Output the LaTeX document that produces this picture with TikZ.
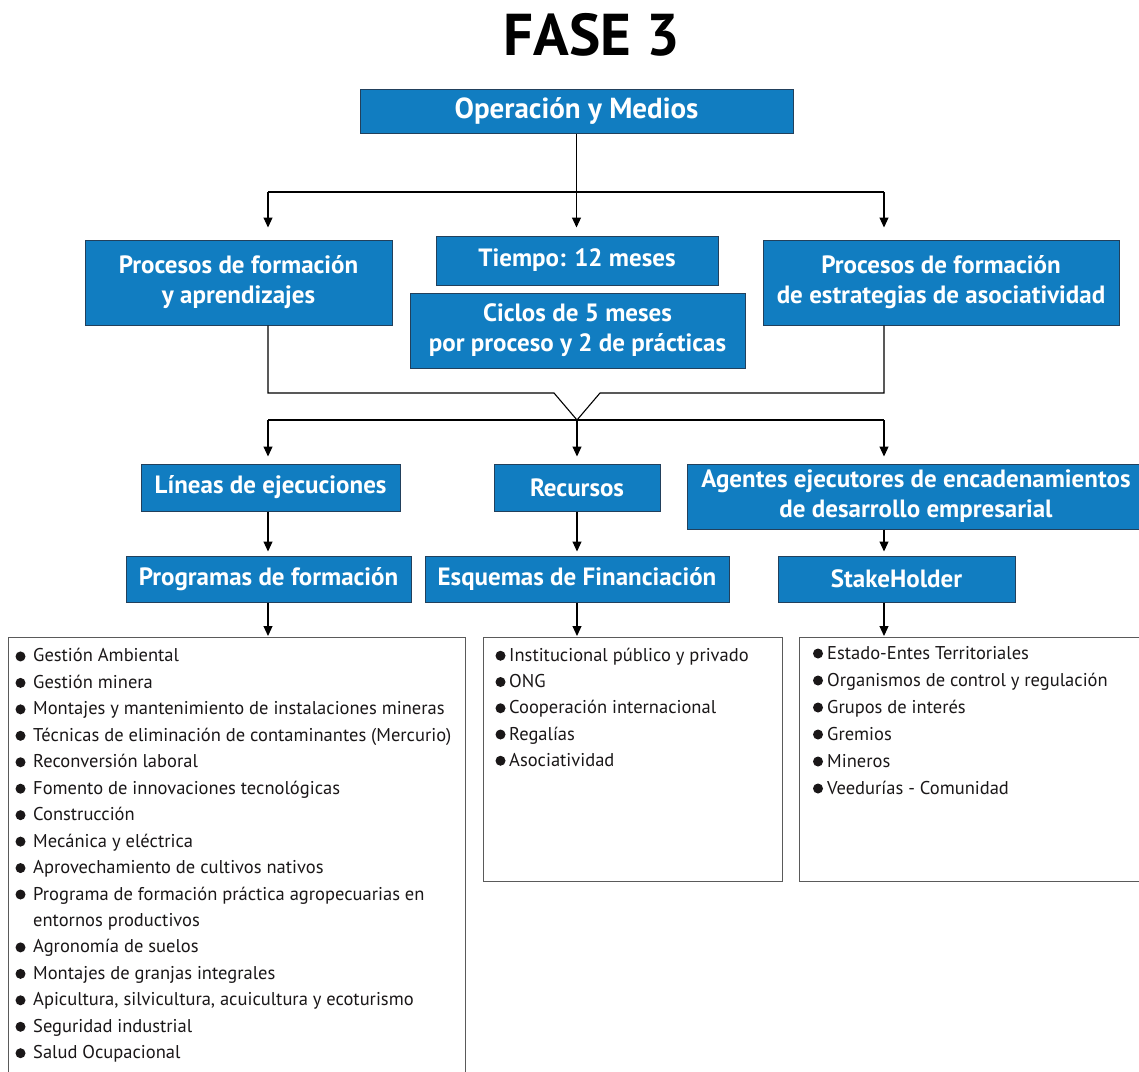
\documentclass[tikz,border=0pt]{standalone}
\usepackage{fontspec}
\setmainfont{PT Sans}
\usetikzlibrary{arrows.meta}
\definecolor{faseBlue}{HTML}{117DC1}
\definecolor{faseEdge}{HTML}{22405C}
\definecolor{faseGray}{HTML}{5A5A5A}
\definecolor{faseInk}{HTML}{1A1718}
\tikzset{
  fase title/.style={font=\bfseries\fontsize{59}{59}\selectfont, text=black, inner sep=0pt},
  fase box/.style={fill=faseBlue, draw=faseEdge, line width=1pt, text=white, align=center, inner sep=0pt, font=\bfseries\fontsize{25}{30}\selectfont},
  fase list/.style={draw=faseGray, line width=1.4pt, fill=white, inner sep=0pt, anchor=north west},
  fase item/.style={anchor=base west, inner sep=0pt, text=faseInk, font=\fontsize{18.5}{20}\selectfont},
  fase dot/.style={fill=faseInk},
  fase line/.style={draw=black, line width=1.1pt},
  fase arrow/.style={fase line, -{Triangle[length=10pt,width=9pt]}},
}

\begin{document}
\begin{tikzpicture}[x=1pt, y=-1pt]
  \path[use as bounding box] (0,0) rectangle (1139,1071);
  \clip (0,0) rectangle (1139,1071);
  \node[fase title] (title) at (592,35) {FASE 3};
  % Top box and first fork
  \node[fase box, minimum width=433pt, minimum height=44pt, font=\bfseries\fontsize{29}{30}\selectfont] (oym) at (576.5,111) {Operación y Medios};
  \node[fase box, minimum width=307pt, minimum height=85pt] (pfa) at (238.5,282.5) {Procesos de formación\\y aprendizajes};
  \node[fase box, minimum width=282pt, minimum height=49pt] (tiempo) at (577,260.5) {Tiempo: 12 meses};
  \node[fase box, minimum width=335pt, minimum height=75pt] (ciclos) at (577.5,330.5) {Ciclos de 5 meses\\por proceso y 2 de prácticas};
  \node[fase box, minimum width=356pt, minimum height=85pt] (pfe) at (941,282.5) {Procesos de formación\\de estrategias de asociatividad};
  % Third and fourth rows
  \node[fase box, minimum width=259pt, minimum height=47pt] (lineas) at (270.5,487.5) {Líneas de ejecuciones};
  \node[fase box, minimum width=166pt, minimum height=47pt] (recursos) at (577,487.5) {Recursos};
  \node[fase box, minimum width=458pt, minimum height=65pt] (agentes) at (916,496.5) {Agentes ejecutores de encadenamientos\\de desarrollo empresarial};
  \node[fase box, minimum width=285pt, minimum height=46pt] (programas) at (268.5,579) {Programas de formación};
  \node[fase box, minimum width=304pt, minimum height=46pt] (esquemas) at (577,579) {Esquemas de Financiación};
  \node[fase box, minimum width=237pt, minimum height=46pt] (stake) at (896.5,579) {StakeHolder};
  % List frames
  \node[fase list, minimum width=457pt, minimum height=470pt] (progList) at (8,637) {};
  \node[fase list, minimum width=299pt, minimum height=244pt] (finList) at (483,637) {};
  \node[fase list, minimum width=360pt, minimum height=244pt] (stakeList) at (799,637) {};
  % Connectors
  \coordinate (forkTop) at (576.5,192);
  \coordinate (forkL) at (268,192);
  \coordinate (forkR) at (884,192);
  \draw[fase line] (oym.south) -- (forkTop);
  \draw[fase line] (forkL) -- (forkR);
  \draw[fase arrow, shorten >=12pt] (forkL) -- (forkL |- pfa.north);
  \draw[fase arrow, shorten >=8pt] (forkTop) -- (forkTop |- tiempo.north);
  \draw[fase arrow, shorten >=12pt] (forkR) -- (forkR |- pfe.north);
  \coordinate (joinL) at (268,393);
  \coordinate (joinR) at (884,393);
  \coordinate (notchL) at (554,393);
  \coordinate (notchR) at (600,393);
  \coordinate (notch) at (577,420);
  \coordinate (fork2L) at (268,420);
  \coordinate (fork2R) at (884,420);
  \draw[fase line] (forkL |- pfa.south) -- (joinL) -- (notchL) -- (notch) -- (notchR) -- (joinR) -- (forkR |- pfe.south);
  \draw[fase line] (fork2L) -- (fork2R);
  \draw[fase arrow, shorten >=7pt] (fork2L) -- (fork2L |- lineas.north);
  \draw[fase arrow, shorten >=7pt] (notch) -- (notch |- recursos.north);
  \draw[fase arrow, shorten >=7pt] (fork2R) -- (fork2R |- agentes.north);
  \draw[fase arrow, shorten >=4pt] (forkL |- lineas.south) -- (forkL |- programas.north);
  \draw[fase arrow, shorten >=4pt] (notch |- recursos.south) -- (notch |- esquemas.north);
  \draw[fase arrow, shorten >=4pt] (forkR |- agentes.south) -- (forkR |- stake.north);
  \draw[fase arrow, shorten >=1pt] (forkL |- programas.south) -- (forkL |- progList.north);
  \draw[fase arrow, shorten >=1pt] (notch |- esquemas.south) -- (notch |- finList.north);
  \draw[fase arrow, shorten >=1pt] (forkR |- stake.south) -- (forkR |- stakeList.north);
  % Bulleted lists
  \foreach \b/\t [count=\i] in {1/Gestión Ambiental, 1/Gestión minera,
      1/Montajes y mantenimiento de instalaciones mineras,
      1/Técnicas de eliminación de contaminantes (Mercurio),
      1/Reconversión laboral, 1/Fomento de innovaciones tecnológicas,
      1/Construcción, 1/Mecánica y eléctrica, 1/Aprovechamiento de cultivos nativos,
      1/Programa de formación práctica agropecuarias en, 0/entornos productivos,
      1/Agronomía de suelos, 1/Montajes de granjas integrales,
      1/{Apicultura, silvicultura, acuicultura y ecoturismo},
      1/Seguridad industrial, 1/Salud Ocupacional}{
    \node[fase item] (prog\i) at (33,{635.5+26.45*\i}) {\t};
    \ifnum\b=1 \fill[fase dot] ([xshift=-12.5pt, yshift=5.5pt]prog\i.base west) circle (5pt); \fi
  }
  \foreach \t [count=\i] in {Institucional público y privado, ONG,
      Cooperación internacional, Regalías, Asociatividad}{
    \node[fase item] (fin\i) at (509,{635+26.25*\i}) {\t};
    \fill[fase dot] ([xshift=-8.5pt, yshift=5.5pt]fin\i.base west) circle (5pt);
  }
  \foreach \t [count=\i] in {Estado-Entes Territoriales, Organismos de control y regulación,
      Grupos de interés, Gremios, Mineros, Veedurías - Comunidad}{
    \node[fase item] (sh\i) at (827,{632+27*\i}) {\t};
    \fill[fase dot] ([xshift=-9pt, yshift=5.5pt]sh\i.base west) circle (5pt);
  }
\end{tikzpicture}
\end{document}
